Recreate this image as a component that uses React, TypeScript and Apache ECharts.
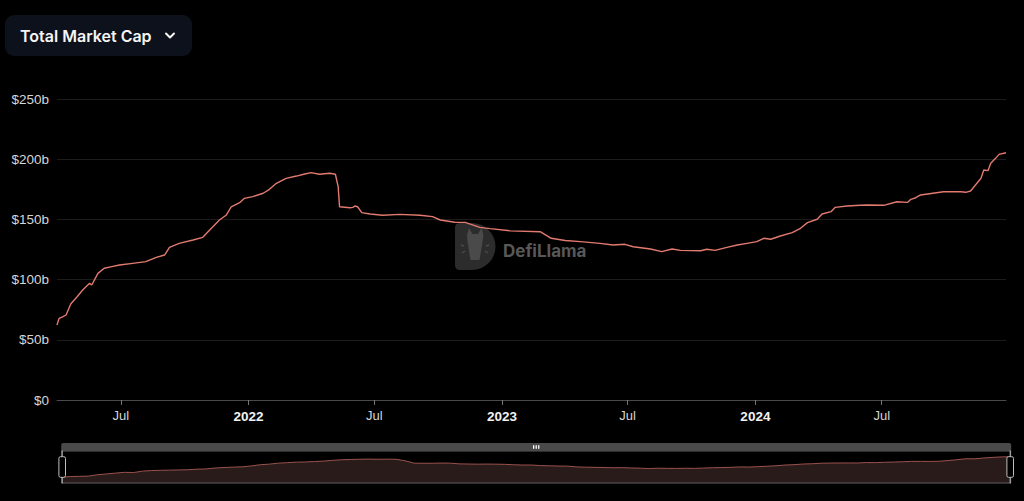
import React, { useEffect, useRef } from "react";
import * as echarts from "echarts";

const dates: string[] = [
  "2021-03-31","2021-04-03","2021-04-08","2021-04-13","2021-04-20","2021-04-29","2021-05-07","2021-05-17",
  "2021-05-20","2021-05-29","2021-06-07","2021-06-18","2021-06-29","2021-07-18","2021-08-06","2021-08-21",
  "2021-09-02","2021-09-09","2021-09-23","2021-10-13","2021-10-27","2021-11-06","2021-11-20","2021-11-30",
  "2021-12-07","2021-12-19","2021-12-26","2022-01-07","2022-01-22","2022-01-31","2022-02-10","2022-02-24",
  "2022-03-11","2022-03-23","2022-04-01","2022-04-13","2022-04-28","2022-05-06","2022-05-10","2022-05-12",
  "2022-05-27","2022-05-31","2022-06-03","2022-06-07","2022-06-13","2022-06-25","2022-07-13","2022-08-07",
  "2022-09-05","2022-09-23","2022-10-04","2022-10-25","2022-11-09","2022-11-30","2022-12-15","2023-01-13",
  "2023-02-25","2023-03-13","2023-04-02","2023-04-24","2023-05-22","2023-06-10","2023-06-27","2023-07-09",
  "2023-08-03","2023-08-19","2023-09-03","2023-09-15","2023-10-14","2023-10-23","2023-11-04","2023-11-21",
  "2023-12-06","2023-12-20","2024-01-03","2024-01-13","2024-01-23","2024-02-06","2024-02-23","2024-03-06",
  "2024-03-16","2024-03-30","2024-04-06","2024-04-19","2024-04-25","2024-05-12","2024-05-31","2024-06-10",
  "2024-07-04","2024-07-23","2024-08-07","2024-08-12","2024-08-19","2024-08-26","2024-09-28","2024-10-23",
  "2024-10-30","2024-11-06","2024-11-13","2024-11-21","2024-11-25","2024-12-01","2024-12-05","2024-12-12",
  "2024-12-17","2024-12-27",
];

// Total stablecoin market cap, billions of USD
const marketCapB: number[] = [
  62.3, 67.8, 69.0, 70.6, 80.0, 85.8, 91.4, 96.9,
  95.5, 105.2, 109.4, 110.8, 112.1, 113.5, 114.9, 118.5,
  120.4, 126.8, 130.1, 132.9, 135.1, 141.2, 149.5, 153.7,
  160.5, 163.9, 167.5, 168.9, 171.7, 175.0, 180.0, 184.1,
  186.0, 187.7, 188.8, 187.5, 188.3, 187.5, 177.2, 160.5,
  159.7, 160.0, 161.1, 160.5, 155.6, 154.5, 153.4, 154.2,
  153.5, 152.3, 149.5, 147.6, 147.5, 143.4, 142.3, 140.5,
  139.8, 134.3, 132.5, 131.5, 130.1, 128.7, 129.3, 127.3,
  125.4, 123.2, 125.4, 124.3, 124.0, 125.2, 124.3, 126.8,
  128.7, 130.1, 131.5, 134.3, 133.5, 136.2, 139.0, 142.6,
  147.3, 150.1, 154.5, 156.4, 160.0, 161.1, 161.7, 162.0,
  161.7, 164.7, 164.1, 166.7, 168.0, 170.3, 173.0, 173.0,
  172.5, 173.6, 178.6, 184.2, 191.0, 190.5, 196.6, 200.7,
  204.0, 205.4,
];

const xTickDates: string[] = [
  "2021-07-01", "2022-01-01", "2022-07-01", "2023-01-01", "2023-07-01", "2024-01-01", "2024-07-01",
];

const yMax = 250;
const yStep = 50;

const title = "Total Market Cap";
const watermarkText = "DefiLlama";

const toTs = (s: string) => {
  const [y, m, d] = s.split("-").map(Number);
  return new Date(y, m - 1, d).getTime();
};

echarts.graphic.registerShape(
  "llamaD",
  echarts.graphic.extendPath(
    "M5,0 L17,0 A23.5,23.5 0 0 1 17,47 L5,47 Q0,47 0,42 L0,5 Q0,0 5,0 Z",
    {}
  )
);
echarts.graphic.registerShape(
  "llamaHead",
  echarts.graphic.extendPath(
    "M12,12 L14,5 L17.5,11 L23,11 L26.5,5 L28.5,12 L27.5,19 L26,28 L24.5,37 L15.5,37 L14,28 L12.5,19 Z",
    {}
  )
);

export default function App() {
  const ref = useRef<HTMLDivElement>(null);

  useEffect(() => {
    document.body.style.margin = "0";
    document.body.style.background = "#000";
    if (!ref.current) return;
    const chart = echarts.init(ref.current, undefined, { renderer: "svg" });
    const data = dates.map((d, i) => [toTs(d), marketCapB[i]]);
    const tickTs = xTickDates.map(toTs);
    const lineColor = "#e27a70";

    chart.setOption({
      animation: false,
      backgroundColor: "#000",
      grid: { left: 57, right: 18, top: 99, bottom: 101 },
      xAxis: {
        type: "value",
        min: toTs(dates[0]),
        max: toTs(dates[dates.length - 1]),
        axisLine: { show: true, lineStyle: { color: "#4a4a4a", width: 1 } },
        axisTick: {
          show: true,
          length: 5,
          lineStyle: { color: "#777" },
          customValues: tickTs,
        },
        axisLabel: {
          customValues: tickTs,
          margin: 9,
          fontSize: 13,
          fontFamily: "Liberation Sans, Arial, sans-serif",
          color: "#d6d6d6",
          formatter: (v: number) => {
            const d = new Date(v);
            return d.getMonth() === 0 ? `{yr|${d.getFullYear()}}` : "Jul";
          },
          rich: {
            yr: {
              fontWeight: "bold",
              fontSize: 13.5,
              fontFamily: "Liberation Sans, Arial, sans-serif",
              color: "#f2f2f2",
            },
          },
        },
        splitLine: { show: false },
      },
      yAxis: {
        type: "value",
        min: 0,
        max: yMax,
        interval: yStep,
        axisLine: { show: false },
        axisTick: { show: false },
        axisLabel: {
          margin: 8,
          fontSize: 13.5,
          fontFamily: "Liberation Sans, Arial, sans-serif",
          color: "#d6d6d6",
          formatter: (v: number) => (v === 0 ? "$0" : `$${v}b`),
        },
        splitLine: { show: true, lineStyle: { color: "#1c1c1c", width: 1 } },
      },
      dataZoom: [
        {
          type: "slider",
          xAxisIndex: 0,
          start: 0,
          end: 100,
          left: 58,
          right: 16,
          top: 443,
          height: 33,
          showDetail: false,
          brushSelect: true,
          moveHandleSize: 8,
          moveHandleStyle: { color: "#4a4a4a", opacity: 1 },
          borderColor: "#5c5c5c",
          fillerColor: "rgba(0,0,0,0)",
          handleStyle: { color: "#000", borderColor: "#bdbdbd", borderWidth: 1 },
          dataBackground: {
            lineStyle: { color: "#9a524c", opacity: 1, width: 1 },
            areaStyle: { color: "#2a1b1b", opacity: 1 },
          },
          selectedDataBackground: {
            lineStyle: { color: "#9a524c", opacity: 1, width: 1 },
            areaStyle: { color: "#2a1b1b", opacity: 1 },
          },
          emphasis: {
            moveHandleStyle: { color: "#4a4a4a", opacity: 1 },
            handleStyle: { color: "#000", borderColor: "#bdbdbd" },
          },
        },
      ],
      graphic: [
        {
          type: "rect",
          z: 10,
          shape: { x: 5, y: 15, width: 187, height: 41, r: 9 },
          style: { fill: "#0d111c" },
        },
        {
          type: "text",
          z: 11,
          x: 20,
          y: 35.5,
          style: {
            text: title,
            fill: "#f5f5f5",
            font: "600 16px Inter, 'Noto Sans', sans-serif",
            verticalAlign: "middle",
          },
        },
        {
          type: "polyline",
          z: 11,
          shape: { points: [[166, 33.5], [170, 37.5], [174, 33.5]] },
          style: { stroke: "#f5f5f5", lineWidth: 2, fill: null, lineCap: "round", lineJoin: "round" },
        },
        {
          type: "group",
          z: 0,
          silent: true,
          children: [
            { type: "llamaD", x: 455, y: 223, style: { fill: "#2c2c2c" } },
            { type: "llamaHead", x: 455, y: 223, style: { fill: "#4a4a4a" } },
            { type: "line", shape: { x1: 461, y1: 245, x2: 464, y2: 246 }, style: { stroke: "#4a4a4a", lineWidth: 1.5 } },
            { type: "line", shape: { x1: 462, y1: 253, x2: 465, y2: 251 }, style: { stroke: "#4a4a4a", lineWidth: 1.5 } },
            { type: "line", shape: { x1: 486, y1: 246, x2: 489, y2: 245 }, style: { stroke: "#4a4a4a", lineWidth: 1.5 } },
            { type: "line", shape: { x1: 485, y1: 251, x2: 488, y2: 253 }, style: { stroke: "#4a4a4a", lineWidth: 1.5 } },
            {
              type: "text",
              x: 503,
              y: 250.5,
              style: {
                text: watermarkText,
                fill: "#585858",
                font: "bold 17px Inter, 'Noto Sans', sans-serif",
                verticalAlign: "middle",
              },
            },
          ],
        },
      ],
      series: [
        {
          type: "line",
          data,
          showSymbol: false,
          symbol: "none",
          z: 5,
          lineStyle: { color: lineColor, width: 1.4 },
          itemStyle: { color: lineColor },
          emphasis: { disabled: true },
        },
      ],
    });

    return () => chart.dispose();
  }, []);

  return (
    <div
      ref={ref}
      style={{ position: "fixed", left: 0, top: 0, width: 1024, height: 501, background: "#000" }}
    />
  );
}
